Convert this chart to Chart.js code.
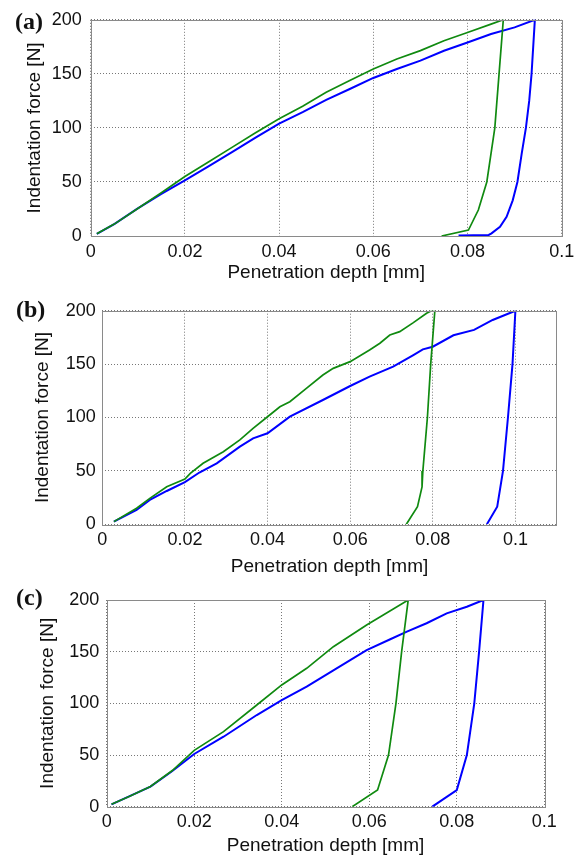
<!DOCTYPE html>
<html>
<head>
<meta charset="utf-8">
<script src="https://cdn.jsdelivr.net/npm/chart.js@4.4.1/dist/chart.umd.min.js"></script>
<style>
  body { margin: 0; background: #fff; width: 583px; height: 859px; position: relative; overflow: hidden; }
  canvas { position: absolute; left: 0; }
  .tag { position: absolute; font: bold 24px 'Liberation Serif', 'Times New Roman', serif; line-height: 24px; color: #111; }
</style>
</head>
<body>
<canvas id="chartA" width="583" height="290" style="top:0"></canvas>
<canvas id="chartB" width="583" height="290" style="top:290px"></canvas>
<canvas id="chartC" width="583" height="279" style="top:580px"></canvas>
<div class="tag" style="left:15px;top:9px">(a)</div>
<div class="tag" style="left:16px;top:297px">(b)</div>
<div class="tag" style="left:16px;top:585px">(c)</div>
<script>
// axis ticks
const depthTicks = [0, 0.02, 0.04, 0.06, 0.08, 0.1];
const forceTicks = [0, 50, 100, 150, 200];

// (a) loading + unloading, depth in mm, force in N
const aGreenDepth = [0.0013, 0.005, 0.01, 0.015, 0.02, 0.025, 0.03, 0.035, 0.04, 0.045, 0.05, 0.055, 0.06, 0.065, 0.07, 0.075, 0.08, 0.085, 0.0876,
  0.0867, 0.0858, 0.0841, 0.0823, 0.0802, 0.0745];
const aGreenForce = [2, 11, 25.5, 40, 55, 68.5, 82, 95.5, 108.5, 120, 133, 143.8, 154.5, 163.8, 171.5, 180.6, 188.3, 196, 200,
  150, 100, 50, 24, 5.5, 0];
const aBlueDepth = [0.0013, 0.005, 0.01, 0.015, 0.02, 0.025, 0.03, 0.035, 0.04, 0.045, 0.05, 0.055, 0.06, 0.065, 0.07, 0.075, 0.08, 0.085, 0.09, 0.0943,
  0.0936, 0.0931, 0.0924, 0.0915, 0.0906, 0.0896, 0.0883, 0.0869, 0.0851, 0.0845, 0.0781];
const aBlueForce = [2, 11, 25.5, 39, 51.5, 64.5, 77.5, 91, 104, 114.6, 126, 136, 146.2, 154.5, 162.2, 171.4, 179, 186.8, 193, 200,
  150, 125, 100, 76, 50, 33, 17.8, 8.6, 2.5, 1, 0.5];

// (b)
const bGreenDepth = [0.0028, 0.0083, 0.0115, 0.0156, 0.02, 0.0213, 0.0244, 0.0293, 0.0333, 0.0365, 0.04, 0.043, 0.0454, 0.0494, 0.0534, 0.0559, 0.06,
  0.0647, 0.0672, 0.0696, 0.072, 0.0753, 0.0785, 0.0797, 0.0805,
  0.0795, 0.0787, 0.0776, 0.0774, 0.0763, 0.0736];
const bGreenForce = [2.5, 15, 24.3, 35.2, 42.4, 47.7, 57.1, 68, 79, 89.9, 100.7, 110, 114.8, 127.3, 139.8, 146, 152.3,
  163.2, 169.5, 177.2, 180.4, 188.8, 197.6, 200, 200,
  150, 100, 50, 35, 16.5, 0];
const bBlueDepth = [0.0028, 0.0083, 0.0115, 0.0156, 0.02, 0.0235, 0.0277, 0.0333, 0.0365, 0.04, 0.0454, 0.0534, 0.06, 0.0647, 0.0704, 0.0753, 0.0776,
  0.08, 0.085, 0.09, 0.0945, 0.1,
  0.0993, 0.0982, 0.097, 0.0956, 0.0931];
const bBlueForce = [2.5, 13.4, 22.8, 31.2, 39.5, 48.5, 57.1, 72.7, 80.5, 85.2, 100.8, 116.4, 129.5, 138.2, 147.6, 158.5, 163.8,
  166.3, 177, 182, 191.3, 200,
  150, 100, 50, 16.5, 0];

// (c)
const cGreenDepth = [0.0011, 0.005, 0.01, 0.015, 0.02, 0.0267, 0.0343, 0.04, 0.0457, 0.0518, 0.0594, 0.0632, 0.0689,
  0.0674, 0.0661, 0.0644, 0.0619, 0.0561];
const cGreenForce = [2.3, 9.7, 19.5, 35, 54.5, 72.6, 98.4, 117.8, 133.9, 154.8, 175.8, 185.5, 200,
  150, 100, 50, 16.1, 0];
const cBlueDepth = [0.0011, 0.005, 0.01, 0.015, 0.02, 0.0267, 0.0343, 0.04, 0.0457, 0.0518, 0.0594, 0.0648, 0.0686, 0.0731, 0.0777, 0.0823, 0.0861,
  0.0851, 0.084, 0.0823, 0.08, 0.0744];
const cBlueForce = [2.3, 9.7, 19.5, 34.5, 51, 67.7, 88.7, 103.2, 116.1, 132, 151.6, 162, 169.4, 177.5, 187.1, 193.5, 200,
  150, 100, 50, 16.1, 0];

const GREEN = '#108a10';
const BLUE = '#0000ff';

Chart.defaults.font.family = "'Liberation Sans', Arial, sans-serif";
Chart.defaults.color = '#111';

// gray box around the plot area, like matlab axes
const boxPlugin = {
    id: 'box',
    afterDraw(chart) {
        const a = chart.chartArea;
        const ctx = chart.ctx;
        ctx.save();
        ctx.strokeStyle = '#8a8a8a';
        ctx.lineWidth = 1;
        ctx.strokeRect(Math.round(a.left) + 0.5, Math.round(a.top) + 0.5, Math.round(a.right - a.left), Math.round(a.bottom - a.top));
        ctx.restore();
    }
};

function toPoints(xs, ys) {
    return xs.map((x, i) => ({ x: x, y: ys[i] }));
}

function makeChart(id, green, blue, xMax, box) {
    const ctx = document.getElementById(id).getContext('2d');
    new Chart(ctx, {
        type: 'scatter',
        data: {
            datasets: [
                { data: toPoints(green[0], green[1]), borderColor: GREEN, borderWidth: 1.7, showLine: true, pointRadius: 0, tension: 0 },
                { data: toPoints(blue[0], blue[1]), borderColor: BLUE, borderWidth: 2, showLine: true, pointRadius: 0, tension: 0 }
            ]
        },
        options: {
            responsive: false,
            animation: false,
            layout: { padding: { top: box.top, right: box.right, left: 0, bottom: 0 } },
            plugins: { legend: { display: false }, tooltip: { enabled: false } },
            scales: {
                x: {
                    type: 'linear',
                    min: 0,
                    max: xMax,
                    afterBuildTicks: s => { s.ticks = depthTicks.map(v => ({ value: v })); },
                    afterFit: s => { s.height = box.xh; },
                    ticks: { font: { size: 18 }, padding: 5, maxRotation: 0, callback: v => String(v) },
                    grid: { color: '#777', drawTicks: false },
                    border: { display: false, dash: [1, 2] },
                    title: { display: true, text: 'Penetration depth [mm]', font: { size: 19 }, padding: { top: 0, bottom: box.xtp } }
                },
                y: {
                    min: 0,
                    max: 200,
                    afterBuildTicks: s => { s.ticks = forceTicks.map(v => ({ value: v })); },
                    afterFit: s => { s.width = box.yw; },
                    ticks: { font: { size: 18 }, padding: box.ypad, callback: v => String(v) },
                    grid: { color: '#777', drawTicks: false },
                    border: { display: false, dash: [1, 2] },
                    title: { display: true, text: 'Indentation force [N]', font: { size: 19 }, padding: { top: box.ytp, bottom: 0 } }
                }
            }
        },
        plugins: [boxPlugin]
    });
}

makeChart('chartA', [aGreenDepth, aGreenForce], [aBlueDepth, aBlueForce], 0.1,
    { top: 19, right: 21.3, xh: 54, yw: 90.7, ypad: 9, xtp: 5.6, ytp: 23.6 });
makeChart('chartB', [bGreenDepth, bGreenForce], [bBlueDepth, bBlueForce], 0.11,
    { top: 20.7, right: 26.3, xh: 55.7, yw: 102.3, ypad: 6.5, xtp: 1.6, ytp: 31.6 });
makeChart('chartC', [cGreenDepth, cGreenForce], [cBlueDepth, cBlueForce], 0.1,
    { top: 20, right: 38.7, xh: 52.3, yw: 106.7, ypad: 7.5, xtp: 1.6, ytp: 36.6 });
</script>
</body>
</html>
